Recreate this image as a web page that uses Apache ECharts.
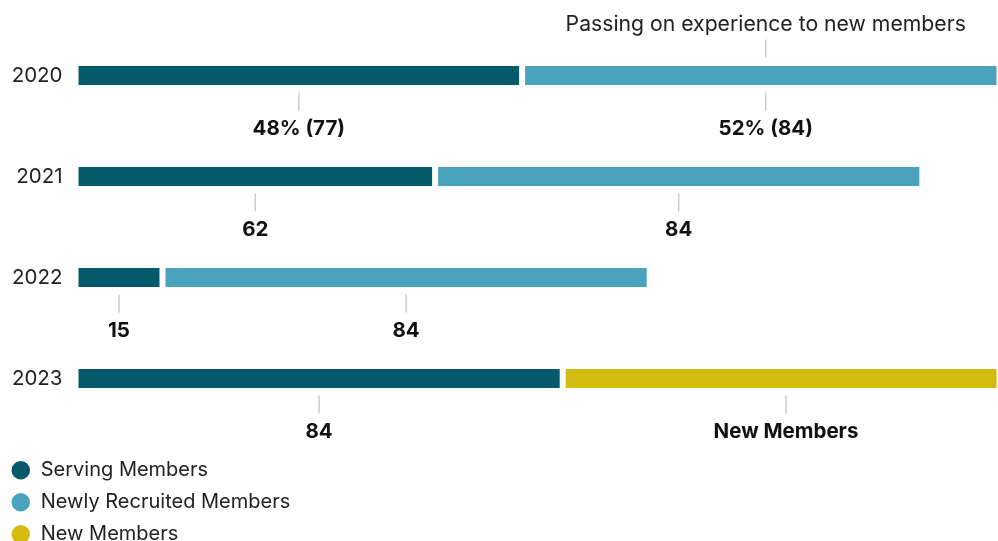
<!DOCTYPE html>
<html>
<head>
<meta charset="utf-8">
<script src="https://cdn.jsdelivr.net/npm/echarts@6/dist/echarts.min.js"></script>
<style>
html,body{margin:0;padding:0;background:#fff;}
#chart{width:998px;height:541px;}
</style>
</head>
<body>
<div id="chart"></div>
<script>
const years = ['2020', '2021', '2022', '2023'];
const serving = [77, 62, 15, 84];
const recruited = [84, 84, 84, 0];
const newMembers = [0, 0, 0, 77];
const seriesNames = ['Serving Members', 'Newly Recruited Members', 'New Members'];
const servingLabels = ['48% (77)', '62', '15', '84'];
const recruitedLabels = ['52% (84)', '84', '84', ''];
const newMembersLabels = ['', '', '', 'New Members'];
const annotationText = 'Passing on experience to new members';
const colors = ['#045a6b', '#49a3bc', '#d4bb10'];

const FONT = 'Inter, "Noto Sans", sans-serif';
const chart = echarts.init(document.getElementById('chart'));
const valueSets = [serving, recruited, newMembers];
const labelSets = [servingLabels, recruitedLabels, newMembersLabels];

function barSeries(name, data, color) {
  return {
    name: name,
    type: 'bar',
    stack: 'total',
    data: data,
    barWidth: 25,
    clip: true,
    itemStyle: { color: color, borderColor: '#fff', borderWidth: 3 },
    silent: true
  };
}

chart.setOption({
  animation: false,
  color: colors,
  grid: { left: 75.5, right: 0, top: 25, height: 404, containLabel: false },
  xAxis: { type: 'value', min: 0, max: 159.05, show: false },
  yAxis: {
    type: 'category', data: years, inverse: true,
    axisLine: { show: false }, axisTick: { show: false }, splitLine: { show: false },
    axisLabel: { color: '#222', fontSize: 20.5, fontFamily: FONT, margin: 13 }
  },
  legend: {
    orient: 'vertical', left: 9.5, top: 459, padding: 0, height: 120,
    icon: 'circle', itemWidth: 30, itemHeight: 20.5, itemGap: 9.5,
    textStyle: { color: '#222', fontSize: 20, fontFamily: FONT },
    data: seriesNames
  },
  series: [
    barSeries(seriesNames[0], serving, colors[0]),
    barSeries(seriesNames[1], recruited, colors[1]),
    barSeries(seriesNames[2], newMembers, colors[2]),
    {
      type: 'custom',
      silent: true,
      z: 10,
      clip: false,
      data: years.map((y, i) => [0, i]),
      encode: { x: 0, y: 1 },
      renderItem: function (params, api) {
        const i = params.dataIndex;
        const children = [];
        let acc = 0;
        valueSets.forEach((vals, k) => {
          const v = vals[i];
          if (!v) return;
          const mid = acc + v / 2;
          acc += v;
          const p = api.coord([mid, i]);
          children.push({
            type: 'line',
            shape: { x1: p[0], y1: p[1] + 17, x2: p[0], y2: p[1] + 35 },
            style: { stroke: '#cccccc', lineWidth: 1.5 }
          });
          children.push({
            type: 'text',
            x: p[0], y: p[1] + 53,
            style: {
              text: labelSets[k][i], fill: '#111', fontSize: 20.5, fontWeight: 'bold',
              fontFamily: FONT, align: 'center', verticalAlign: 'middle'
            }
          });
          if (i === 0 && k === 1) {
            children.push({
              type: 'line',
              shape: { x1: p[0], y1: p[1] - 36, x2: p[0], y2: p[1] - 18 },
              style: { stroke: '#cccccc', lineWidth: 1.5 }
            });
            children.push({
              type: 'text',
              x: p[0], y: p[1] - 51,
              style: {
                text: annotationText, fill: '#222', fontSize: 21.2,
                fontFamily: FONT, align: 'center', verticalAlign: 'middle'
              }
            });
          }
        });
        return { type: 'group', children: children };
      }
    }
  ]
});
</script>
</body>
</html>
